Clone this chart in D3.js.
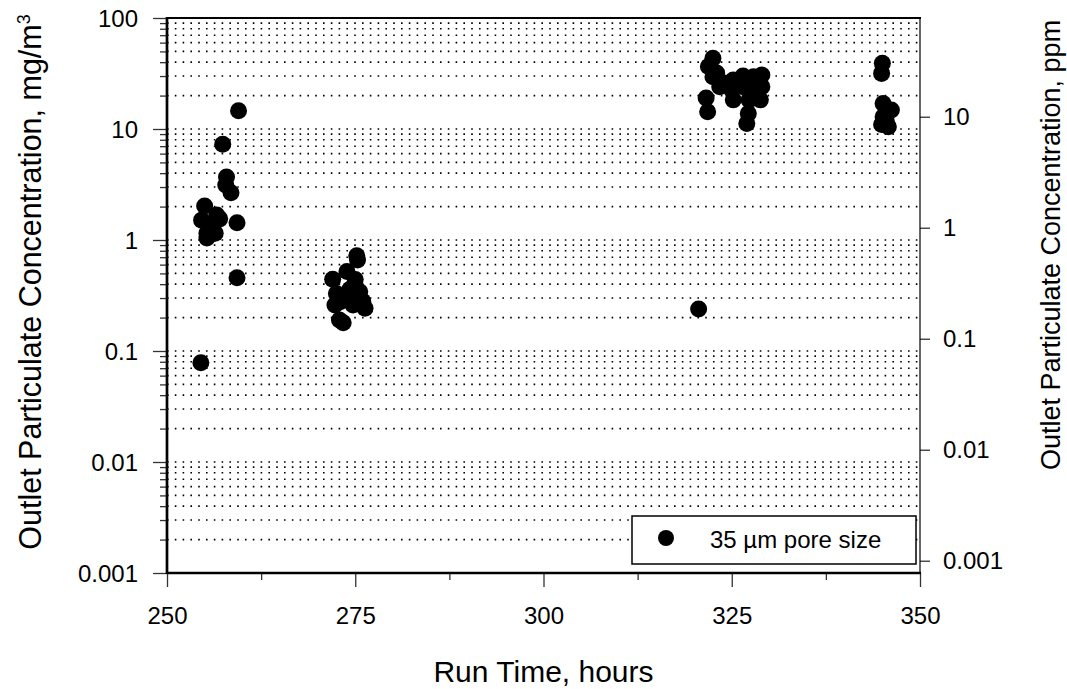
<!DOCTYPE html>
<html><head><meta charset="utf-8">
<script src="https://cdn.jsdelivr.net/npm/d3@7"></script>
<style>body{margin:0;background:#fff}text{font-family:Arial,"Liberation Sans",sans-serif;fill:#000}</style>
</head><body><svg id="c" width="1067" height="689"></svg>
<script>
const xTicks = [250, 275, 300, 325, 350];
const yTicks = [0.001, 0.01, 0.1, 1, 10, 100];
const yTickLabels = ["0.001", "0.01", "0.1", "1", "10", "100"];
const ppmTicks = [0.001, 0.01, 0.1, 1, 10];
const ppmTickLabels = ["0.001", "0.01", "0.1", "1", "10"];
const mgPerPpm = 1.29;
const hours = [254.6,255.0,255.3,255.3,255.7,256.4,256.6,257.0,257.4,257.9,257.8,258.5,259.3,259.5,259.3,254.5,256.0,255.6,
  272.0,273.9,275.2,275.3,275.0,275.6,272.5,273.0,272.3,276.3,274.7,272.9,273.4,273.9,276.0,274.3,
  320.6,
  322.5,321.9,322.5,321.6,321.8,323.4,325.0,325.2,325.2,327.0,327.2,327.3,327.9,329.0,329.0,328.8,326.5,326.5,323.0,324.0,328.2,
  345.0,344.9,345.1,346.2,345.1,345.8,344.9,345.5];
const conc = [1.51,2.02,1.15,1.04,1.33,1.15,1.68,1.55,7.28,3.7,3.13,2.67,1.43,14.6,0.458,0.0785,1.2,1.1,
  0.443,0.52,0.72,0.66,0.44,0.342,0.33,0.278,0.26,0.243,0.26,0.19,0.18,0.30,0.28,0.36,
  0.239,
  43.4,36.5,29.6,19.0,14.3,24,22.5,18.3,27.6,11.2,13.8,18.3,29.6,30.7,24,18.3,24,30,32,26,22,
  39.1,31.7,17.0,14.8,12.9,10.5,11,12];
const legendLabel = "35 µm pore size";

const svg = d3.select("#c");
const L = 167, R = 920, T = 18, B = 573;
const x = d3.scaleLinear().domain([250, 350]).range([L, R]);
const y = d3.scaleLog().domain([0.001, 100]).range([B, T]);
const yR = d3.scaleLog().domain([0.001 / mgPerPpm, 100 / mgPerPpm]).range([B, T]);

const gridVals = [];
for (let e = -3; e < 2; e++) for (let m = 1; m <= 9; m++) gridVals.push(m * Math.pow(10, e));
const minorY = gridVals.filter(v => !yTicks.some(t => Math.abs(t - v) / t < 1e-9));

svg.append("g").selectAll("line").data(gridVals.filter(v => v > 0.0011)).join("line")
  .attr("x1", L).attr("x2", R).attr("y1", d => y(d)).attr("y2", d => y(d))
  .attr("stroke", "#000").attr("stroke-width", 1.6).attr("stroke-dasharray", "1.6,6.2");

// left axis
const gL = svg.append("g").attr("transform", `translate(${L},0)`)
  .call(d3.axisLeft(y).tickValues(yTicks).tickFormat((d, i) => yTickLabels[i]).tickSize(14).tickPadding(15));
gL.selectAll(".tick line").attr("stroke", "#333").attr("stroke-width", 1.3);
gL.select(".domain").remove();
gL.selectAll(".tick text").style("font-size", "24px").attr("dy", "0.34em");
svg.append("g").attr("transform", `translate(${L},0)`)
  .call(d3.axisLeft(y).tickValues(minorY).tickFormat("").tickSize(7))
  .call(g => g.select(".domain").remove())
  .selectAll(".tick line").attr("stroke", "#333").attr("stroke-width", 1.3);

// bottom axis
const gB = svg.append("g").attr("transform", `translate(0,${B})`)
  .call(d3.axisBottom(x).tickValues(xTicks).tickFormat(d3.format("d")).tickSize(14).tickPadding(20));
gB.select(".domain").remove();
gB.selectAll(".tick line").attr("stroke", "#333").attr("stroke-width", 1.3);
gB.selectAll(".tick text").style("font-size", "24px");
svg.append("g").attr("transform", `translate(0,${B})`)
  .call(d3.axisBottom(x).tickValues([262.5, 287.5, 312.5, 337.5]).tickFormat("").tickSize(7))
  .call(g => g.select(".domain").remove())
  .selectAll(".tick line").attr("stroke", "#333").attr("stroke-width", 1.3);

// right axis (ppm)
const gR = svg.append("g").attr("transform", `translate(${R},0)`)
  .call(d3.axisRight(yR).tickValues(ppmTicks).tickFormat((d, i) => ppmTickLabels[i]).tickSize(10).tickPadding(13));
gR.select(".domain").remove();
gR.selectAll(".tick line").attr("stroke", "#333").attr("stroke-width", 1.3);
gR.selectAll(".tick text").style("font-size", "24px").attr("dy", "0.34em");

// frame
svg.append("line").attr("x1", R).attr("x2", R).attr("y1", T).attr("y2", B).attr("stroke", "#000").attr("stroke-width", 1.2);
svg.append("line").attr("x1", L).attr("x2", R + 1).attr("y1", T).attr("y2", T).attr("stroke", "#000").attr("stroke-width", 2.2);
svg.append("line").attr("x1", L).attr("x2", R + 1).attr("y1", B).attr("y2", B).attr("stroke", "#000").attr("stroke-width", 2.5);
svg.append("line").attr("x1", L).attr("x2", L).attr("y1", T - 1).attr("y2", B + 1).attr("stroke", "#000").attr("stroke-width", 2.7);

// points
svg.append("g").selectAll("circle").data(hours.map((h, i) => [h, conc[i]])).join("circle")
  .attr("cx", d => x(d[0])).attr("cy", d => y(d[1])).attr("r", 8.5).attr("fill", "#000");

// legend
const lg = svg.append("g");
lg.append("rect").attr("x", 632).attr("y", 516).attr("width", 284).attr("height", 48)
  .attr("fill", "#fff").attr("stroke", "#000").attr("stroke-width", 1.5);
lg.append("circle").attr("cx", 666).attr("cy", 538).attr("r", 8).attr("fill", "#000");
lg.append("text").attr("x", 710).attr("y", 548).style("font-size", "24px").text(legendLabel);

// titles
svg.append("text").attr("x", (L + R) / 2).attr("y", 682).attr("text-anchor", "middle")
  .style("font-size", "30px").text("Run Time, hours");
const yt = svg.append("text").attr("transform", "translate(41,282) rotate(-90)").attr("text-anchor", "middle")
  .style("font-size", "30.5px");
yt.append("tspan").text("Outlet Particulate Concentration, mg/m");
yt.append("tspan").attr("dy", "-0.6em").style("font-size", "18px").text("3");
svg.append("text").attr("transform", "translate(1060,245) rotate(-90)").attr("text-anchor", "middle")
  .style("font-size", "27px").text("Outlet Particulate Concentration, ppm");
</script></body></html>
